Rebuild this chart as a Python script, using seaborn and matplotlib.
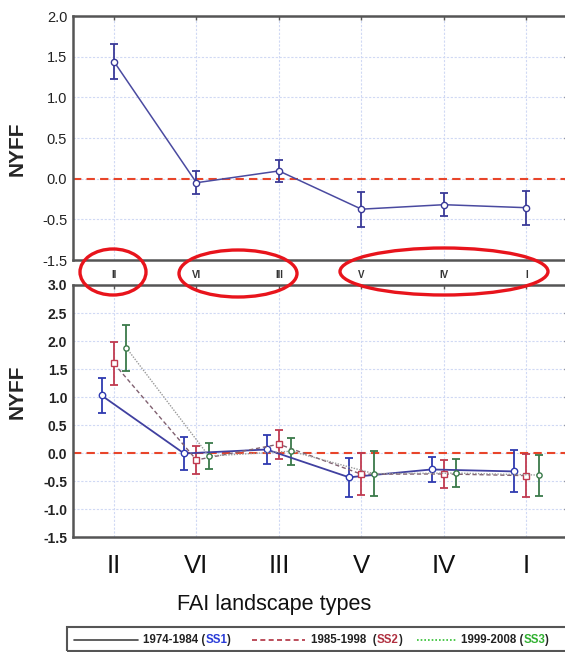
import numpy as np
import pandas as pd
import matplotlib
matplotlib.use("Agg")
import matplotlib.pyplot as plt
from matplotlib.patches import Ellipse, Rectangle
from matplotlib.lines import Line2D
import seaborn as sns

# ---------------- data ----------------
categories = ["II", "VI", "III", "V", "IV", "I"]

top_mean = [1.44, -0.05, 0.095, -0.375, -0.32, -0.357]
top_err = [0.21, 0.14, 0.135, 0.215, 0.14, 0.21]

ss1_mean = [1.03, -0.005, 0.066, -0.43, -0.29, -0.325]
ss1_err = [0.32, 0.30, 0.25, 0.35, 0.22, 0.375]
ss2_mean = [1.60, -0.12, 0.16, -0.375, -0.37, -0.40]
ss2_err = [0.38, 0.25, 0.26, 0.37, 0.25, 0.38]
ss3_mean = [1.88, -0.05, 0.035, -0.365, -0.355, -0.39]
ss3_err = [0.41, 0.235, 0.24, 0.40, 0.25, 0.365]

top_yticks = [-1.0, -0.5, 0.0, 0.5, 1.0, 1.5, 2.0]
top_yticklabels = ["-1.5", "-0.5", "0.0", "0.5", "1.0", "1.5", "2.0"]
bot_yticks = [-1.5, -1.0, -0.5, 0.0, 0.5, 1.0, 1.5, 2.0, 2.5, 3.0]

legend_periods = ["1974-1984 (", "1985-1998  (", "1999-2008 ("]
legend_codes = ["SS1", "SS2", "SS3"]

# ---------------- style ----------------
sns.set_style("white")
plt.rcParams["font.family"] = ["Liberation Sans", "DejaVu Sans"]

W, H = 565, 652
fig = plt.figure(figsize=(W / 100, H / 100), dpi=100)

def px_axes(x0, y0, x1, y1):
    return fig.add_axes([x0 / W, 1 - y1 / H, (x1 - x0) / W, (y1 - y0) / H])

ax_top = px_axes(72.7, 16.0, 567.7, 260.0)
ax_bot = px_axes(72.7, 285.0, 567.7, 537.3)

spine_col = "#555555"
grid_col = "#d0d9f4"
zero_col = "#e8452a"

xpos = np.arange(len(categories))

for ax in (ax_top, ax_bot):
    ax.set_xlim(-0.5, len(categories) - 0.5)
    for s in ax.spines.values():
        s.set_color(spine_col)
        s.set_linewidth(1.8)
    ax.set_xticks(xpos)
    ax.grid(True, color=grid_col, linestyle=(0, (2, 1.5)), linewidth=0.8)
    ax.set_axisbelow(True)
    ax.axhline(0, color=zero_col, linestyle=(0, (4, 2.5)), linewidth=1.5, zorder=1.5)
    ax.tick_params(direction="in", length=3, color=spine_col, width=1,
                   top=True, right=True)

# ---------------- top panel ----------------
ax_top.set_ylim(-1.0, 2.0)
ax_top.set_yticks(top_yticks)
ax_top.set_yticklabels(top_yticklabels)
ax_top.tick_params(axis="y", labelsize=10.5, labelcolor="#222222", pad=4)
ax_top.set_xticklabels(categories, fontsize=7, fontweight="bold", color="#333333")
ax_top.tick_params(axis="x", pad=7)

top_col = "#4a4aa0"
ax_top.errorbar(xpos, top_mean, yerr=top_err, fmt="none", ecolor="#3a3a98",
                elinewidth=1.3, capsize=2.8, capthick=1.3, zorder=3)
df_top = pd.DataFrame({"x": xpos, "y": top_mean})
sns.lineplot(data=df_top, x="x", y="y", ax=ax_top, sort=False, color=top_col,
             linewidth=1.1, marker="o", markersize=4.5, markerfacecolor="white",
             markeredgecolor="#3a3a98", markeredgewidth=1.0, zorder=4)
ax_top.set_xlabel("")
ax_top.set_ylabel("NYFF", fontsize=15, fontweight="bold")
ax_top.yaxis.set_label_coords(-(72.7 - 27) / 495, (260 - 149) / 244)

# ---------------- bottom panel ----------------
ax_bot.set_ylim(-1.5, 3.0)
ax_bot.set_yticks(bot_yticks)
ax_bot.set_yticklabels([f"{v:.1f}" for v in bot_yticks], fontweight="bold")
ax_bot.tick_params(axis="y", labelsize=10, labelcolor="#222222", pad=4)
ax_bot.set_xticklabels(categories, fontsize=18.5, color="#111111")
ax_bot.tick_params(axis="x", pad=12)

off = 0.15
series = [
    (ss1_mean, ss1_err, -off, "#4040a0", "-", 1.3, "o", 4.6, "#2f3ab0", "#2f3ab0"),
    (ss2_mean, ss2_err, 0.0, "#806070", (0, (3, 2)), 1.0, "s", 5.0, "#c03a50", "#c03a50"),
    (ss3_mean, ss3_err, off, "#9a9a9a", (0, (1, 1)), 1.0, "o", 3.8, "#3a7a4a", "#3a7a4a"),
]
for mean, err, dx, lcol, ls, lw, mk, ms, ecol, mcol in series:
    xs = xpos + dx
    ax_bot.errorbar(xs, mean, yerr=err, fmt="none", ecolor=ecol,
                    elinewidth=1.3, capsize=2.8, capthick=1.3, zorder=3)
    d = pd.DataFrame({"x": xs, "y": mean})
    sns.lineplot(data=d, x="x", y="y", ax=ax_bot, sort=False, color=lcol,
                 linewidth=lw, linestyle=ls, marker=mk, markersize=ms,
                 markerfacecolor="white", markeredgecolor=mcol,
                 markeredgewidth=1.0, zorder=4)

ax_bot.set_ylabel("NYFF", fontsize=15, fontweight="bold")
ax_bot.yaxis.set_label_coords(-(72.7 - 27) / 495, (537.3 - 392) / 252.3)
ax_bot.set_xlabel("FAI landscape types", fontsize=15.6, color="#111111")
ax_bot.xaxis.set_label_coords((274.5 - 72.7) / 495, -(604.5 - 537.3) / 252.3)
ax_bot.xaxis.label.set_verticalalignment("center")

# ---------------- red ellipses ----------------
for cx, cy, ew, eh in [(113, 272, 66, 46), (238, 273.5, 118, 47), (444, 271.5, 208, 47)]:
    fig.add_artist(Ellipse((cx / W, 1 - cy / H), ew / W, eh / H,
                           transform=fig.transFigure, fill=False,
                           edgecolor="#e8141c", linewidth=2.4, zorder=10))

# ---------------- legend ----------------
fig.add_artist(Rectangle((66.7 / W, 1 - 651 / H), (570 - 66.7) / W, (651 - 626.7) / H,
                         transform=fig.transFigure, fill=False,
                         edgecolor="#555555", linewidth=1.5))
ly = 1 - 640 / H
sample_specs = [((74, 138), "#444444", "-", 1.2),
                ((252, 305), "#b03040", (0, (3, 2)), 1.2),
                ((417, 457), "#30c030", (0, (1, 1.2)), 1.2)]
for (x0, x1), c, ls, lw in sample_specs:
    fig.add_artist(Line2D([x0 / W, x1 / W], [ly, ly], transform=fig.transFigure,
                          color=c, linestyle=ls, linewidth=lw))

code_colors = ["#2a3cd8", "#b03040", "#30b030"]
text_starts = [143, 311, 461]
renderer = fig.canvas.get_renderer()
for start, period, code, ccol in zip(text_starts, legend_periods, legend_codes, code_colors):
    x = start / W
    for piece, col in [(period, "#222222"), (code, ccol), (")", "#222222")]:
        t = fig.text(x, ly, piece, fontsize=8.3, fontweight="bold", color=col,
                     ha="left", va="center")
        bb = t.get_window_extent(renderer=renderer)
        x = x + bb.width / W

fig.savefig("out.png", dpi=100)
